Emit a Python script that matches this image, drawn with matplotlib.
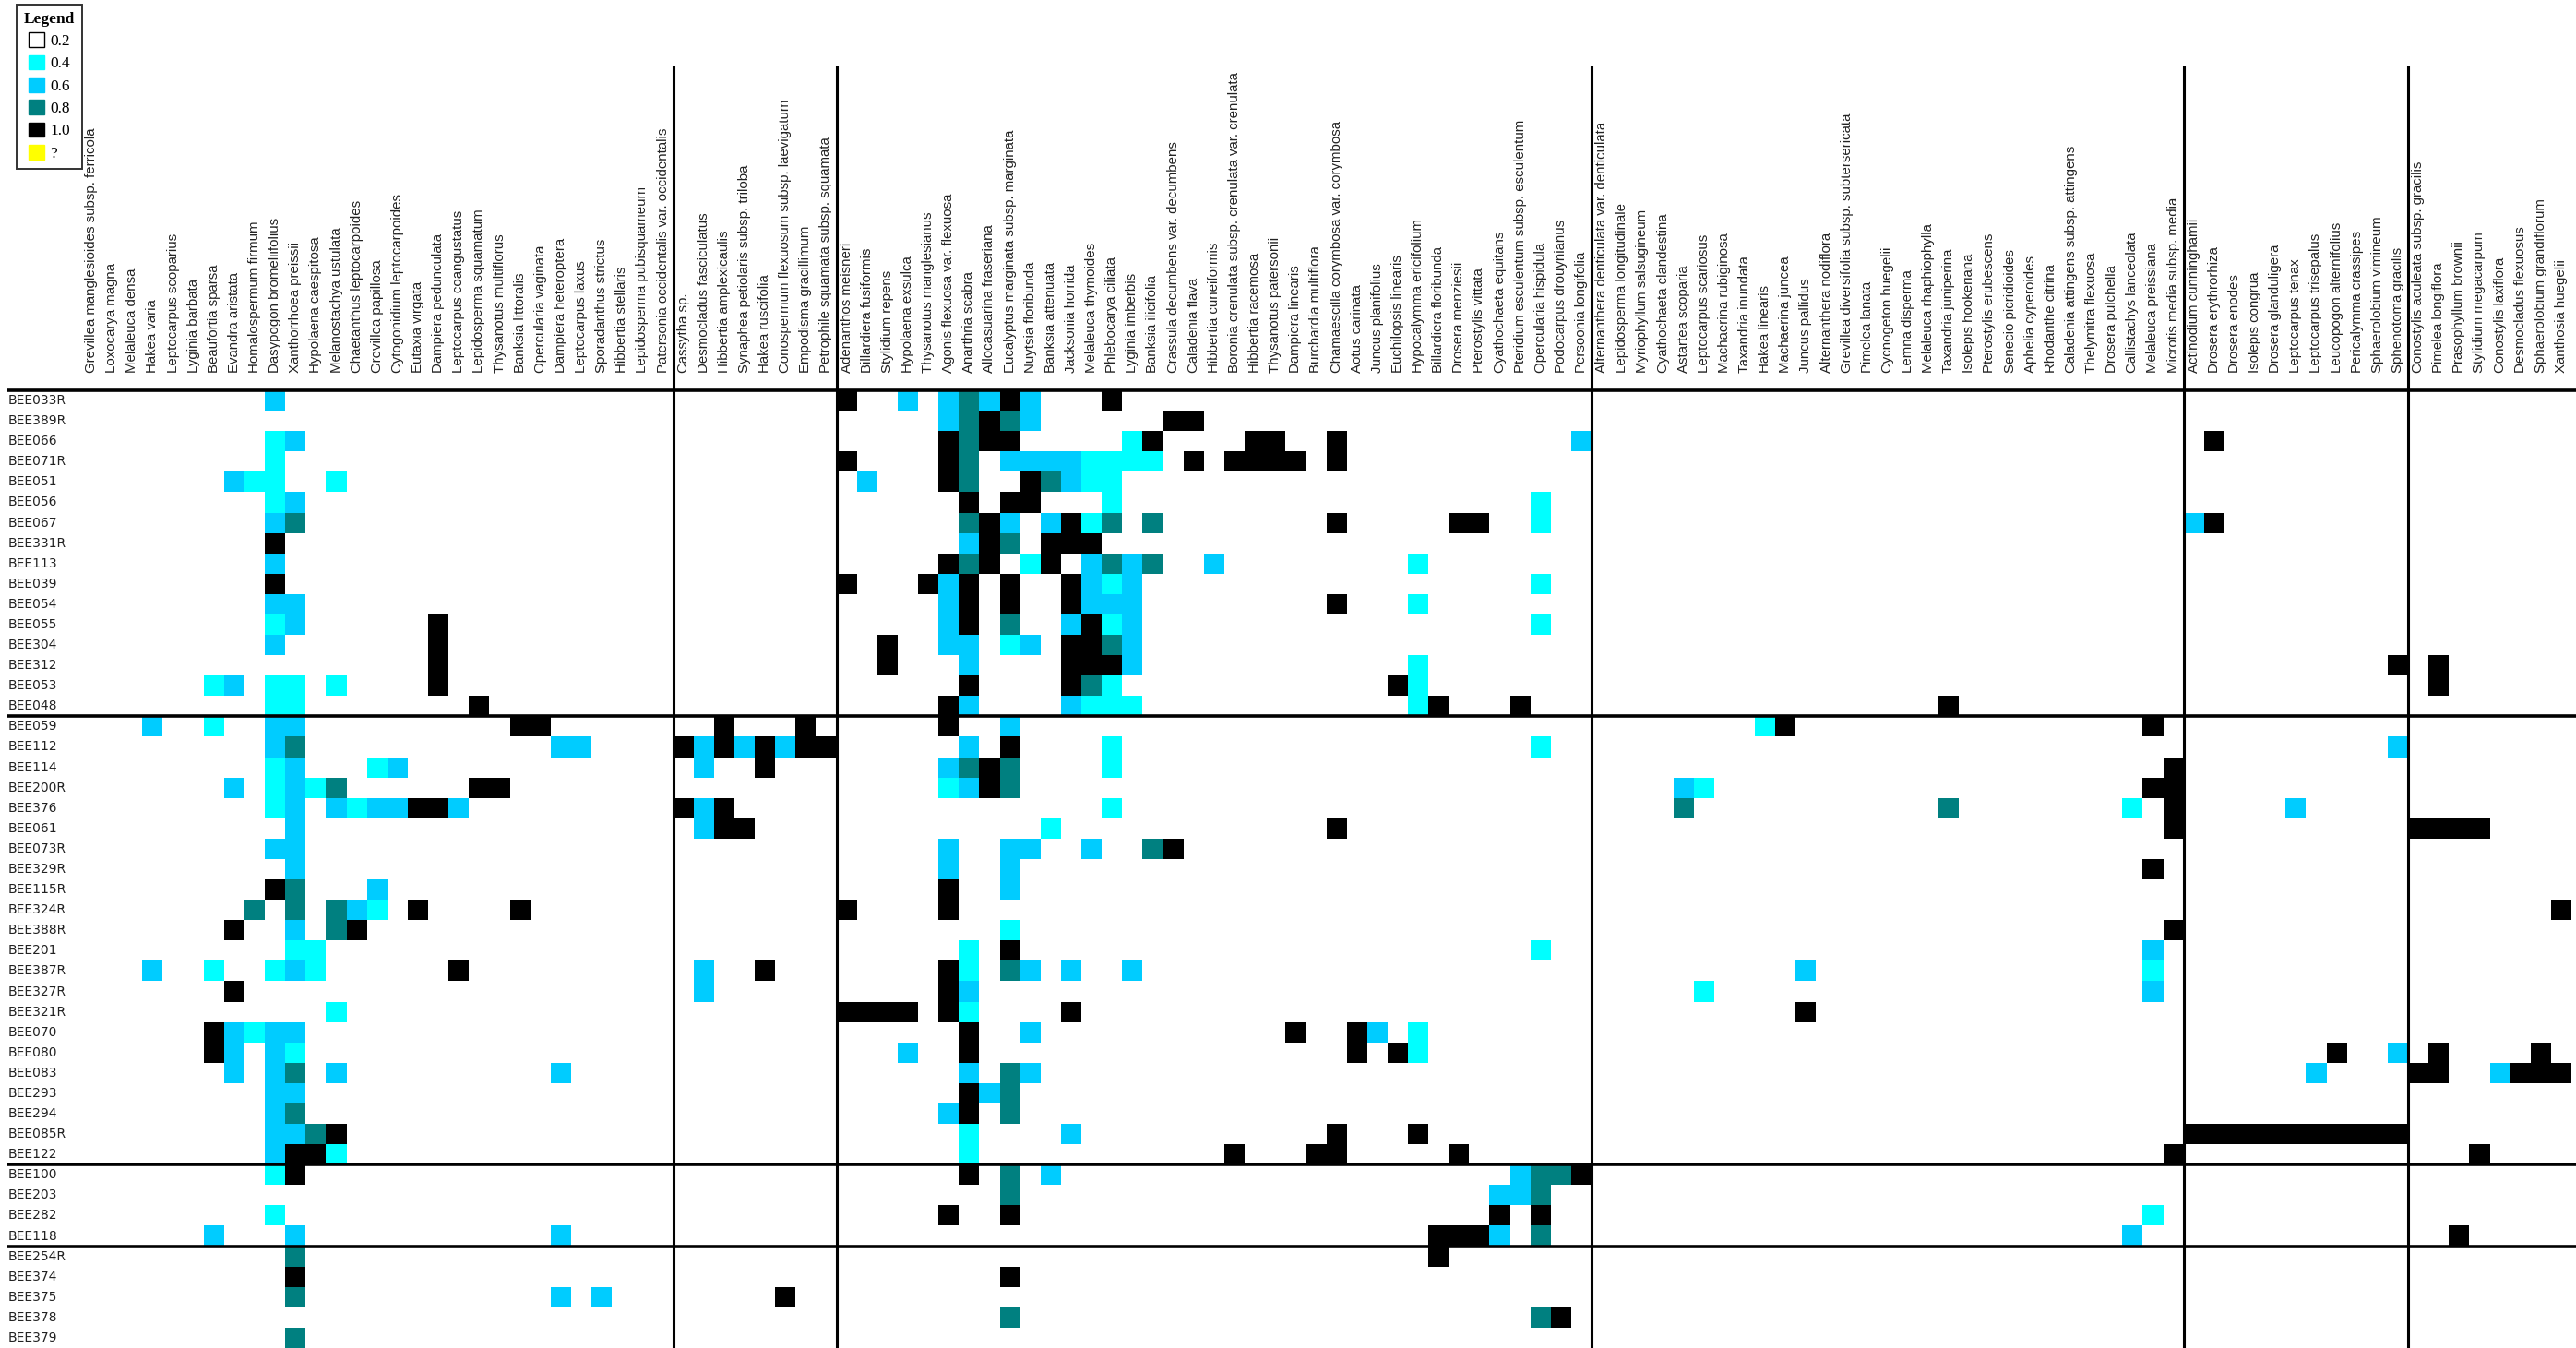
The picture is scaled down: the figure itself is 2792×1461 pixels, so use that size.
import numpy as np
import matplotlib.pyplot as plt
from matplotlib.colors import ListedColormap, BoundaryNorm
from matplotlib.patches import Patch

# samples (rows, top to bottom) and their group sizes
samples = ['BEE033R', 'BEE389R', 'BEE066', 'BEE071R', 'BEE051', 'BEE056', 'BEE067', 'BEE331R',
           'BEE113', 'BEE039', 'BEE054', 'BEE055', 'BEE304', 'BEE312', 'BEE053', 'BEE048',
           'BEE059', 'BEE112', 'BEE114', 'BEE200R', 'BEE376', 'BEE061', 'BEE073R', 'BEE329R',
           'BEE115R', 'BEE324R', 'BEE388R', 'BEE201', 'BEE387R', 'BEE327R', 'BEE321R', 'BEE070',
           'BEE080', 'BEE083', 'BEE293', 'BEE294', 'BEE085R', 'BEE122',
           'BEE100', 'BEE203', 'BEE282', 'BEE118',
           'BEE254R', 'BEE374', 'BEE375', 'BEE378', 'BEE379']
sample_groups = [16, 22, 4, 5]

# species (columns, left to right) and their group sizes
species = [
    'Grevillea manglesioides subsp. ferricola', 'Loxocarya magna', 'Melaleuca densa', 'Hakea varia',
    'Leptocarpus scoparius', 'Lyginia barbata', 'Beaufortia sparsa', 'Evandra aristata',
    'Homalospermum firmum', 'Dasypogon bromeliifolius', 'Xanthorrhoea preissii', 'Hypolaena caespitosa',
    'Melanostachya ustulata', 'Chaetanthus leptocarpoides', 'Grevillea papillosa',
    'Cytogonidium leptocarpoides', 'Eutaxia virgata', 'Dampiera pedunculata', 'Leptocarpus coangustatus',
    'Lepidosperma squamatum', 'Thysanotus multiflorus', 'Banksia littoralis', 'Opercularia vaginata',
    'Dampiera heteroptera', 'Leptocarpus laxus', 'Sporadanthus strictus', 'Hibbertia stellaris',
    'Lepidosperma pubisquameum', 'Patersonia occidentalis var. occidentalis',
    'Cassytha sp.', 'Desmocladus fasciculatus', 'Hibbertia amplexicaulis',
    'Synaphea petiolaris subsp. triloba', 'Hakea ruscifolia', 'Conospermum flexuosum subsp. laevigatum',
    'Empodisma gracillimum', 'Petrophile squamata subsp. squamata',
    'Adenanthos meisneri', 'Billardiera fusiformis', 'Stylidium repens', 'Hypolaena exsulca',
    'Thysanotus manglesianus', 'Agonis flexuosa var. flexuosa', 'Anarthria scabra',
    'Allocasuarina fraseriana', 'Eucalyptus marginata subsp. marginata', 'Nuytsia floribunda',
    'Banksia attenuata', 'Jacksonia horrida', 'Melaleuca thymoides', 'Phlebocarya ciliata',
    'Lyginia imberbis', 'Banksia ilicifolia', 'Crassula decumbens var. decumbens', 'Caladenia flava',
    'Hibbertia cuneiformis', 'Boronia crenulata subsp. crenulata var. crenulata', 'Hibbertia racemosa',
    'Thysanotus patersonii', 'Dampiera linearis', 'Burchardia multiflora',
    'Chamaescilla corymbosa var. corymbosa', 'Aotus carinata', 'Juncus planifolius',
    'Euchilopsis linearis', 'Hypocalymma ericifolium', 'Billardiera floribunda', 'Drosera menziesii',
    'Pterostylis vittata', 'Cyathochaeta equitans', 'Pteridium esculentum subsp. esculentum',
    'Opercularia hispidula', 'Podocarpus drouynianus', 'Persoonia longifolia',
    'Alternanthera denticulata var. denticulata', 'Lepidosperma longitudinale',
    'Myriophyllum salsugineum', 'Cyathochaeta clandestina', 'Astartea scoparia',
    'Leptocarpus scariosus', 'Machaerina rubiginosa', 'Taxandria inundata', 'Hakea linearis',
    'Machaerina juncea', 'Juncus pallidus', 'Alternanthera nodiflora',
    'Grevillea diversifolia subsp. subtersericata', 'Pimelea lanata', 'Cycnogeton huegelii',
    'Lemna disperma', 'Melaleuca rhaphiophylla', 'Taxandria juniperina', 'Isolepis hookeriana',
    'Pterostylis erubescens', 'Senecio picridioides', 'Aphelia cyperoides', 'Rhodanthe citrina',
    'Caladenia attingens subsp. attingens', 'Thelymitra flexuosa', 'Drosera pulchella',
    'Callistachys lanceolata', 'Melaleuca preissiana', 'Microtis media subsp. media',
    'Actinodium cunninghamii', 'Drosera erythrorhiza', 'Drosera enodes', 'Isolepis congrua',
    'Drosera glanduligera', 'Leptocarpus tenax', 'Leptocarpus trisepalus', 'Leucopogon alternifolius',
    'Pericalymma crassipes', 'Sphaerolobium vimineum', 'Sphenotoma gracilis',
    'Conostylis aculeata subsp. gracilis', 'Pimelea longiflora', 'Prasophyllum brownii',
    'Stylidium megacarpum', 'Conostylis laxiflora', 'Desmocladus flexuosus',
    'Sphaerolobium grandiflorum', 'Xanthosia huegelii']
species_groups = [29, 8, 37, 29, 11, 8]

# non-empty cells per sample: {species index: value}
cells = {
    'BEE033R': {9: .6, 37: 1, 40: .6, 42: .6, 43: .8, 44: .6, 45: 1, 46: .6, 50: 1},
    'BEE389R': {42: .6, 43: .8, 44: 1, 45: .8, 46: .6, 53: 1, 54: 1},
    'BEE066': {9: .4, 10: .6, 42: 1, 43: .8, 44: 1, 45: 1, 51: .4, 52: 1, 57: 1, 58: 1, 61: 1, 73: .6, 104: 1},
    'BEE071R': {9: .4, 37: 1, 42: 1, 43: .8, 45: .6, 46: .6, 47: .6, 48: .6, 49: .4, 50: .4, 51: .4, 52: .4,
                54: 1, 56: 1, 57: 1, 58: 1, 59: 1, 61: 1},
    'BEE051': {7: .6, 8: .4, 9: .4, 12: .4, 38: .6, 42: 1, 43: .8, 46: 1, 47: .8, 48: .6, 49: .4, 50: .4},
    'BEE056': {9: .4, 10: .6, 43: 1, 45: 1, 46: 1, 50: .4, 71: .4},
    'BEE067': {9: .6, 10: .8, 43: .8, 44: 1, 45: .6, 47: .6, 48: 1, 49: .4, 50: .8, 52: .8, 61: 1, 67: 1,
               68: 1, 71: .4, 103: .6, 104: 1},
    'BEE331R': {9: 1, 43: .6, 44: 1, 45: .8, 47: 1, 48: 1, 49: 1},
    'BEE113': {9: .6, 42: 1, 43: .8, 44: 1, 46: .4, 47: 1, 49: .6, 50: .8, 51: .6, 52: .8, 55: .6, 65: .4},
    'BEE039': {9: 1, 37: 1, 41: 1, 42: .6, 43: 1, 45: 1, 48: 1, 49: .6, 50: .4, 51: .6, 71: .4},
    'BEE054': {9: .6, 10: .6, 42: .6, 43: 1, 45: 1, 48: 1, 49: .6, 50: .6, 51: .6, 61: 1, 65: .4},
    'BEE055': {9: .4, 10: .6, 17: 1, 42: .6, 43: 1, 45: .8, 48: .6, 49: 1, 50: .4, 51: .6, 71: .4},
    'BEE304': {9: .6, 17: 1, 39: 1, 42: .6, 43: .6, 45: .4, 46: .6, 48: 1, 49: 1, 50: .8, 51: .6},
    'BEE312': {17: 1, 39: 1, 43: .6, 48: 1, 49: 1, 50: 1, 51: .6, 65: .4, 113: 1, 115: 1},
    'BEE053': {6: .4, 7: .6, 9: .4, 10: .4, 12: .4, 17: 1, 43: 1, 48: 1, 49: .8, 50: .4, 64: 1, 65: .4, 115: 1},
    'BEE048': {9: .4, 10: .4, 19: 1, 42: 1, 43: .6, 48: .6, 49: .4, 50: .4, 51: .4, 65: .4, 66: 1, 70: 1, 91: 1},
    'BEE059': {3: .6, 6: .4, 9: .6, 10: .6, 21: 1, 22: 1, 31: 1, 35: 1, 42: 1, 45: .6, 82: .4, 83: 1, 101: 1},
    'BEE112': {9: .6, 10: .8, 23: .6, 24: .6, 29: 1, 30: .6, 31: 1, 32: .6, 33: 1, 34: .6, 35: 1, 36: 1,
               43: .6, 45: 1, 50: .4, 71: .4, 113: .6},
    'BEE114': {9: .4, 10: .6, 14: .4, 15: .6, 30: .6, 33: 1, 42: .6, 43: .8, 44: 1, 45: .8, 50: .4, 102: 1},
    'BEE200R': {7: .6, 9: .4, 10: .6, 11: .4, 12: .8, 19: 1, 20: 1, 42: .4, 43: .6, 44: 1, 45: .8, 78: .6,
                79: .4, 101: 1, 102: 1},
    'BEE376': {9: .4, 10: .6, 12: .6, 13: .4, 14: .6, 15: .6, 16: 1, 17: 1, 18: .6, 29: 1, 30: .6, 31: 1,
               50: .4, 78: .8, 91: .8, 100: .4, 102: 1, 108: .6},
    'BEE061': {10: .6, 30: .6, 31: 1, 32: 1, 47: .4, 61: 1, 102: 1, 114: 1, 115: 1, 116: 1, 117: 1},
    'BEE073R': {9: .6, 10: .6, 42: .6, 45: .6, 46: .6, 49: .6, 52: .8, 53: 1},
    'BEE329R': {10: .6, 42: .6, 45: .6, 101: 1},
    'BEE115R': {9: 1, 10: .8, 14: .6, 42: 1, 45: .6},
    'BEE324R': {8: .8, 10: .8, 12: .8, 13: .6, 14: .4, 16: 1, 21: 1, 37: 1, 42: 1, 121: 1},
    'BEE388R': {7: 1, 10: .6, 12: .8, 13: 1, 45: .4, 102: 1},
    'BEE201': {10: .4, 11: .4, 43: .4, 45: 1, 71: .4, 101: .6},
    'BEE387R': {3: .6, 6: .4, 9: .4, 10: .6, 11: .4, 18: 1, 30: .6, 33: 1, 42: 1, 43: .4, 45: .8, 46: .6,
                48: .6, 51: .6, 84: .6, 101: .4},
    'BEE327R': {7: 1, 30: .6, 42: 1, 43: .6, 79: .4, 101: .6},
    'BEE321R': {12: .4, 37: 1, 38: 1, 39: 1, 40: 1, 42: 1, 43: .4, 48: 1, 84: 1},
    'BEE070': {6: 1, 7: .6, 8: .4, 9: .6, 10: .6, 43: 1, 46: .6, 59: 1, 62: 1, 63: .6, 65: .4},
    'BEE080': {6: 1, 7: .6, 9: .6, 10: .4, 40: .6, 43: 1, 62: 1, 64: 1, 65: .4, 110: 1, 113: .6, 115: 1,
               120: 1},
    'BEE083': {7: .6, 9: .6, 10: .8, 12: .6, 23: .6, 43: .6, 45: .8, 46: .6, 109: .6, 114: 1, 115: 1,
               118: .6, 119: 1, 120: 1, 121: 1},
    'BEE293': {9: .6, 10: .6, 43: 1, 44: .6, 45: .8},
    'BEE294': {9: .6, 10: .8, 42: .6, 43: 1, 45: .8},
    'BEE085R': {9: .6, 10: .6, 11: .8, 12: 1, 43: .4, 48: .6, 61: 1, 65: 1, 103: 1, 104: 1, 105: 1, 106: 1,
                107: 1, 108: 1, 109: 1, 110: 1, 111: 1, 112: 1, 113: 1},
    'BEE122': {9: .6, 10: 1, 11: 1, 12: .4, 43: .4, 56: 1, 60: 1, 61: 1, 67: 1, 102: 1, 117: 1},
    'BEE100': {9: .4, 10: 1, 43: 1, 45: .8, 47: .6, 70: .6, 71: .8, 72: .8, 73: 1},
    'BEE203': {45: .8, 69: .6, 70: .6, 71: .8},
    'BEE282': {9: .4, 42: 1, 45: 1, 69: 1, 71: 1, 101: .4},
    'BEE118': {6: .6, 10: .6, 23: .6, 66: 1, 67: 1, 68: 1, 69: .6, 71: .8, 100: .6, 116: 1},
    'BEE254R': {10: .8, 66: 1},
    'BEE374': {10: 1, 45: 1},
    'BEE375': {10: .8, 23: .6, 25: .6, 34: 1},
    'BEE378': {45: .8, 71: .8, 72: 1},
    'BEE379': {10: .8},
}

legend_labels = ['0.2', '0.4', '0.6', '0.8', '1.0', '?']
legend_colors = ['#FFFFFF', '#00FFFF', '#00CCFF', '#008080', '#000000', '#FFFF00']

# build matrix
nrow, ncol = len(samples), len(species)
mat = np.full((nrow, ncol), np.nan)
for i, s in enumerate(samples):
    for j, v in cells.get(s, {}).items():
        mat[i, j] = v

W, H = 2792, 1461
fig = plt.figure(figsize=(W / 100, H / 100), dpi=100)

# grid area in pixels
gx0, gx1, gy0 = 88, 2787, 423
ax = fig.add_axes([gx0 / W, 0, (gx1 - gx0) / W, (H - gy0) / H])
cw = (gx1 - gx0) / ncol
rh = (H - gy0) / nrow

cmap = ListedColormap(legend_colors[:5])
norm = BoundaryNorm([0.1, 0.3, 0.5, 0.7, 0.9, 1.1], 5)
ax.pcolormesh(np.arange(ncol + 1), np.arange(nrow + 1), np.ma.masked_invalid(mat),
              cmap=cmap, norm=norm, edgecolors='none')
ax.set_xlim(0, ncol)
ax.set_ylim(nrow, 0)
ax.axis('off')

row_font = ['Liberation Sans Narrow', 'DejaVu Sans']
col_font = ['Liberation Sans', 'DejaVu Sans']

# row labels
for i, s in enumerate(samples):
    ax.text(-(gx0 - 9) / cw, i + 0.5, s, ha='left', va='center', fontsize=10,
            family=row_font, color='#222222', clip_on=False)

# column labels
for j, name in enumerate(species):
    ax.text(j + 0.5, -(gy0 - 404) / rh, name, rotation=90, ha='center', va='bottom',
            fontsize=10.8, family=col_font, color='#222222', clip_on=False)

# separator lines
lw = 2.6
x_left = -(gx0 - 8) / cw
x_right = (W - gx0) / cw
ax.plot([x_left, x_right], [0, 0], color='black', lw=lw, clip_on=False, solid_capstyle='butt')
for b in np.cumsum(sample_groups)[:-1]:
    ax.plot([x_left, x_right], [b, b], color='black', lw=lw, clip_on=False, solid_capstyle='butt')
y_top = -(gy0 - 71) / rh
for b in np.cumsum(species_groups)[:-1]:
    ax.plot([b, b], [y_top, nrow], color='black', lw=lw * 0.85, clip_on=False, solid_capstyle='butt')

# legend
handles = [Patch(facecolor=c, edgecolor='black' if c == '#FFFFFF' else c, lw=1)
           for c in legend_colors]
leg = fig.legend(handles, legend_labels, title='Legend', loc='upper left',
                 bbox_to_anchor=(18 / W, 1 - 5 / H), frameon=True, fancybox=False,
                 prop={'family': ['Liberation Serif', 'DejaVu Serif'], 'size': 12.5},
                 title_fontproperties={'family': ['Liberation Serif', 'DejaVu Serif'],
                                       'size': 12.5, 'weight': 'bold'},
                 handlelength=1.0, handleheight=1.0, labelspacing=0.38, handletextpad=0.35,
                 borderpad=0.45, borderaxespad=0)
leg.get_frame().set_edgecolor('black')
leg.get_frame().set_linewidth(1.4)

fig.savefig('out.png', dpi=100, facecolor='white')
